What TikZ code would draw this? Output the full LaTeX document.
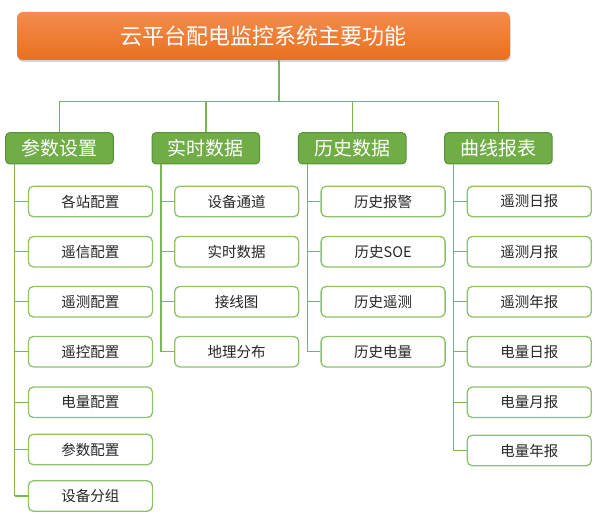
\documentclass[tikz,border=0pt]{standalone}
\usepackage{fontspec}
\setmainfont{Noto Sans CJK SC}
\usetikzlibrary{shadows,calc}
\definecolor{orTop}{RGB}{243,140,78}
\definecolor{orBot}{RGB}{233,112,30}
\definecolor{catFill}{RGB}{112,173,71}
\definecolor{catLine}{RGB}{88,145,55}
\definecolor{itemLine}{RGB}{140,194,104}
\definecolor{linkCol}{RGB}{122,182,83}
\definecolor{itemText}{RGB}{38,38,38}
\begin{document}
\begin{tikzpicture}[x=1pt,y=-1pt,
  titlebox/.style={rounded corners=6pt, top color=orTop, bottom color=orBot, draw=none,
    minimum width=493pt, minimum height=48pt, text=white, inner sep=0pt,
    font=\fontsize{22}{26}\selectfont,
    drop shadow={opacity=0.35, shadow xshift=0.5pt, shadow yshift=-2pt}},
  catbox/.style={rounded corners=4pt, fill=catFill, draw=catLine, line width=1pt,
    minimum width=107.6pt, minimum height=31.3pt, text=white, inner sep=0pt,
    font=\fontsize{19}{22}\selectfont},
  itembox/.style={rounded corners=5pt, fill=white, draw=itemLine, line width=1.3pt,
    minimum width=124pt, minimum height=30.5pt, text=itemText, inner sep=0pt,
    font=\fontsize{14.5}{17}\selectfont},
  link/.style={draw=linkCol, line width=1.4pt}
]
\useasboundingbox (0,0) rectangle (605,516);

\node[titlebox] (title) at (263.5,36) {云平台配电监控系统主要功能};

\node[catbox] (cat1) at (59.5,148.3) {参数设置};
\node[catbox] (cat2) at (205.8,148.3) {实时数据};
\node[catbox] (cat3) at (352.2,148.3) {历史数据};
\node[catbox] (cat4) at (498.4,148.3) {曲线报表};

\coordinate (bar) at (279,101.7);
\draw[link] (title.south -| bar) -- (bar);
\draw[link] (cat1.north) |- (bar) -| (cat4.north);
\draw[link] (cat2.north) -- (cat2.north |- bar);
\draw[link] (cat3.north) -- (cat3.north |- bar);

% column 1
\foreach \t/\y [count=\k] in {各站配置/201.5,遥信配置/251.7,遥测配置/301.7,遥控配置/351.7,电量配置/402.3,参数配置/449.5,设备分组/496}
  \node[itembox] (a\k) at (90.4,\y) {\t};
% column 2
\foreach \t/\y [count=\k] in {设备通道/201.5,实时数据/251.7,接线图/301.7,地理分布/351.7}
  \node[itembox] (b\k) at (236.7,\y) {\t};
% column 3
\foreach \t/\y [count=\k] in {历史报警/201.5,历史SOE/251.7,历史遥测/301.7,历史电量/351.7}
  \node[itembox] (c\k) at (383.1,\y) {\t};
% column 4
\foreach \t/\y [count=\k] in {遥测日报/201.5,遥测月报/251.7,遥测年报/301.7,电量日报/351.7,电量月报/402.3,电量年报/450.5}
  \node[itembox] (d\k) at (529.3,\y) {\t};

\coordinate (v1) at ($(cat1.south west)+(9.3,0)$);
\coordinate (v2) at ($(cat2.south west)+(9.3,0)$);
\coordinate (v3) at ($(cat3.south west)+(9.3,0)$);
\coordinate (v4) at ($(cat4.south west)+(9.3,0)$);

\draw[link] (v1) -- (v1 |- a7.west);
\foreach \k in {1,...,7} \draw[link] (v1 |- a\k.west) -- (a\k.west);
\draw[link] (v2) -- (v2 |- b4.west);
\foreach \k in {1,...,4} \draw[link] (v2 |- b\k.west) -- (b\k.west);
\draw[link] (v3) -- (v3 |- c4.west);
\foreach \k in {1,...,4} \draw[link] (v3 |- c\k.west) -- (c\k.west);
\draw[link] (v4) -- (v4 |- d6.west);
\foreach \k in {1,...,6} \draw[link] (v4 |- d\k.west) -- (d\k.west);
\end{tikzpicture}
\end{document}
